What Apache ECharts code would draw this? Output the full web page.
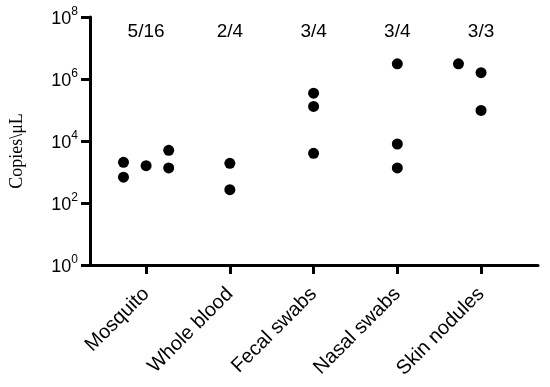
<!DOCTYPE html>
<html>
<head>
<meta charset="utf-8">
<script src="https://cdn.jsdelivr.net/npm/echarts@6/dist/echarts.min.js"></script>
<style>
html,body{margin:0;padding:0;background:#fff;}
#chart{width:550px;height:387px;}
</style>
</head>
<body>
<div id="chart"></div>
<script>
// ---- data ----
var categories = ['Mosquito', 'Whole blood', 'Fecal swabs', 'Nasal swabs', 'Skin nodules'];
var positiveCounts = ['5/16', '2/4', '3/4', '3/4', '3/3'];
var mosquitoValues = [2050, 680, 1600, 5000, 1350];
var mosquitoJitter = [-0.27, -0.27, 0, 0.27, 0.27];
var wholeBloodValues = [1900, 270];
var wholeBloodJitter = [0, 0];
var fecalValues = [350000, 130000, 4000];
var fecalJitter = [0, 0, 0];
var nasalValues = [3100000, 8000, 1350];
var nasalJitter = [0, 0, 0];
var skinValues = [3100000, 1600000, 97000];
var skinJitter = [-0.27, 0, 0];
var yTicks = [1, 100, 10000, 1000000, 100000000];
var countLabelLevel = 33000000;

var groups = [
  [mosquitoValues, mosquitoJitter],
  [wholeBloodValues, wholeBloodJitter],
  [fecalValues, fecalJitter],
  [nasalValues, nasalJitter],
  [skinValues, skinJitter]
];
var points = [];
groups.forEach(function (g, i) {
  g[0].forEach(function (v, j) { points.push([i + 1 + g[1][j], v]); });
});
var labelPoints = positiveCounts.map(function (t, i) { return [i + 1, countLabelLevel, t]; });
var catPos = categories.map(function (c, i) { return i + 1; });

var chart = echarts.init(document.getElementById('chart'), null, {renderer: 'canvas'});
chart.setOption({
  backgroundColor: '#fff',
  animation: false,
  grid: {left: 90, right: 12, top: 17, bottom: 122},
  xAxis: {
    type: 'value',
    min: 0.33,
    max: 5.68,
    splitLine: {show: false},
    axisLine: {lineStyle: {color: '#000', width: 3}},
    axisTick: {show: true, customValues: catPos, length: 9, lineStyle: {color: '#000', width: 3}},
    axisLabel: {
      customValues: catPos,
      rotate: 45,
      margin: 26,
      fontFamily: 'Liberation Sans, Arial',
      fontSize: 20,
      color: '#000',
      formatter: function (v) { return categories[Math.round(v) - 1]; }
    }
  },
  yAxis: {
    type: 'log',
    logBase: 10,
    min: 1,
    max: 100000000,
    name: 'Copies\\μL',
    nameLocation: 'middle',
    nameGap: 64,
    nameTextStyle: {fontFamily: 'Liberation Serif, Times New Roman', fontSize: 18, color: '#000', padding: [0, 20, 0, 0]},
    splitLine: {show: false},
    axisLine: {show: true, lineStyle: {color: '#000', width: 3}},
    axisTick: {show: true, customValues: yTicks, length: 9, lineStyle: {color: '#000', width: 3}},
    axisLabel: {
      customValues: yTicks,
      margin: 12,
      color: '#000',
      fontFamily: 'Liberation Sans, Arial',
      fontSize: 18,
      formatter: function (v) { return '{b|10}{s|' + Math.round(Math.log10(v)) + '}'; },
      rich: {
        b: {fontSize: 18, fontFamily: 'Liberation Sans, Arial', color: '#000', lineHeight: 22, verticalAlign: 'bottom'},
        s: {fontSize: 12, fontFamily: 'Liberation Sans, Arial', color: '#000', lineHeight: 22, verticalAlign: 'top'}
      }
    }
  },
  series: [
    {
      type: 'scatter',
      data: points,
      symbol: 'circle',
      symbolSize: 11,
      itemStyle: {color: '#000', opacity: 1}
    },
    {
      type: 'scatter',
      data: labelPoints,
      symbolSize: 0,
      silent: true,
      itemStyle: {color: '#000', opacity: 1},
      label: {
        show: true,
        position: 'inside',
        formatter: function (p) { return p.data[2]; },
        fontFamily: 'Liberation Sans, Arial',
        fontSize: 19,
        color: '#000',
        opacity: 1
      }
    }
  ]
});
</script>
</body>
</html>
